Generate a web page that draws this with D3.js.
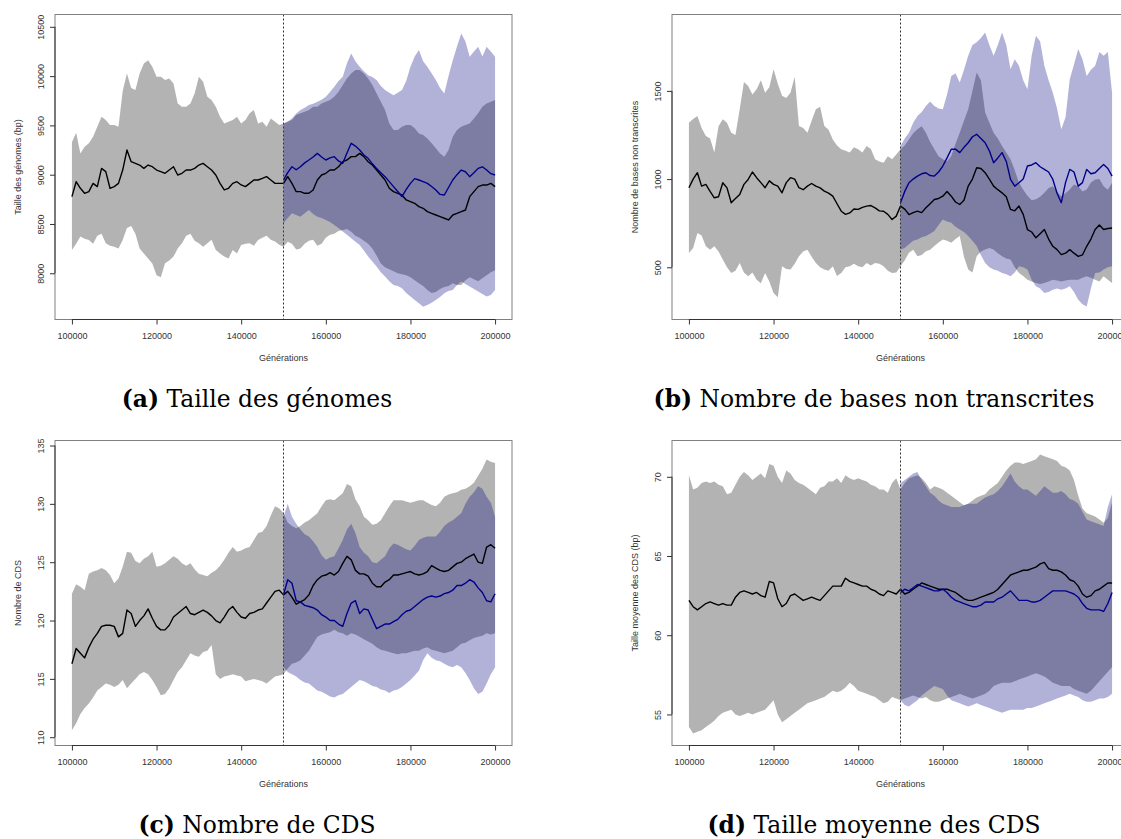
<!DOCTYPE html>
<html>
<head>
<meta charset="utf-8">
<script src="https://cdn.jsdelivr.net/npm/d3@7"></script>
<style>
  body { margin: 0; background: #fff; }
  svg { display: block; }
  .tick text { font-family: "Liberation Sans", Arial, sans-serif; font-size: 9px; fill: #333; }
  .tick line { stroke: #333; }
</style>
</head>
<body>
<svg id="fig" width="1121" height="839"></svg>
<script>
// generations (x values)
var gensAll = [
  100000,101000,102000,103000,104000,105000,106000,107000,108000,109000,
  110000,111000,112000,113000,114000,115000,116000,117000,118000,119000,
  120000,121000,122000,123000,124000,125000,126000,127000,128000,129000,
  130000,131000,132000,133000,134000,135000,136000,137000,138000,139000,
  140000,141000,142000,143000,144000,145000,146000,147000,148000,149000,
  150000,151000,152000,153000,154000,155000,156000,157000,158000,159000,
  160000,161000,162000,163000,164000,165000,166000,167000,168000,169000,
  170000,171000,172000,173000,174000,175000,176000,177000,178000,179000,
  180000,181000,182000,183000,184000,185000,186000,187000,188000,189000,
  190000,191000,192000,193000,194000,195000,196000,197000,198000,199000,
  200000];
var gensLate = [
  150000,151000,152000,153000,154000,155000,156000,157000,158000,159000,
  160000,161000,162000,163000,164000,165000,166000,167000,168000,169000,
  170000,171000,172000,173000,174000,175000,176000,177000,178000,179000,
  180000,181000,182000,183000,184000,185000,186000,187000,188000,189000,
  190000,191000,192000,193000,194000,195000,196000,197000,198000,199000,
  200000];
var xTicks = [100000,120000,140000,160000,180000,200000];

// (a) Taille des génomes
var aTicks = [8000,8500,9000,9500,10000,10500];
var aLim = [7531,10625];
var aGreyHigh = [
  9330,9426,9216,9284,9318,9385,9487,9588,9554,9503,
  9503,9487,9850,10027,9880,9858,10027,10128,10162,10095,
  9993,9993,9960,9976,9926,9723,9689,9689,9723,9824,
  9993,9943,9790,9757,9689,9588,9520,9537,9554,9588,
  9520,9554,9622,9655,9520,9537,9487,9571,9537,9503,
  9520,9537,9554,9605,9622,9639,9655,9689,9689,9723,
  9740,9757,9790,9841,9909,9976,10027,10061,10061,10027,
  9976,9909,9824,9740,9655,9520,9453,9453,9487,9503,
  9503,9470,9419,9402,9368,9318,9267,9216,9183,9250,
  9385,9453,9487,9503,9520,9571,9622,9689,9723,9740,
  9757];
var aGreyLow = [
  8237,8300,8372,8350,8338,8300,8380,8400,8304,8280,
  8270,8250,8338,8460,8480,8400,8250,8200,8150,8100,
  7980,7960,8102,8130,8169,8250,8304,8380,8400,8330,
  8304,8270,8304,8340,8237,8200,8169,8150,8237,8200,
  8287,8300,8304,8280,8338,8360,8380,8340,8321,8290,
  8270,8320,8300,8240,8250,8300,8330,8340,8280,8300,
  8360,8390,8400,8430,8440,8450,8420,8380,8360,8330,
  8300,8250,8180,8100,8060,8040,8020,8000,7990,7980,
  7960,7930,7900,7870,7830,7800,7810,7840,7860,7870,
  7900,7880,7880,7930,7960,7940,7920,7950,7980,8010,
  8030];
var aGreyMean = [
  8777,8929,8862,8811,8828,8912,8879,9064,9031,8862,
  8879,8912,9047,9250,9132,9115,9098,9064,9098,9081,
  9047,9031,9014,9047,9081,8997,9014,9047,9047,9064,
  9098,9115,9081,9047,8997,8912,8845,8862,8912,8929,
  8896,8879,8912,8946,8946,8963,8980,8946,8912,8912,
  8912,8980,8912,8828,8828,8811,8811,8845,8946,8997,
  9014,9047,9047,9081,9132,9149,9183,9183,9216,9183,
  9132,9098,9047,8997,8946,8862,8828,8811,8794,8744,
  8727,8710,8676,8659,8625,8608,8591,8575,8558,8541,
  8591,8608,8625,8642,8777,8828,8879,8895,8895,8912,
  8879];
var aBlueHigh = [
  9520,9540,9571,9620,9655,9680,9706,9720,9740,9760,
  9790,9840,9892,9950,9993,10130,10230,10150,10095,10050,
  10010,9990,9960,9900,9858,9830,9807,9830,9858,9950,
  10095,10200,10264,10150,10095,10030,9960,9880,9824,10000,
  10162,10300,10432,10350,10196,10250,10297,10200,10297,10250,
  10196];
var aBlueLow = [
  8507,8560,8608,8590,8574,8610,8642,8600,8574,8560,
  8541,8520,8490,8460,8423,8390,8355,8320,8287,8230,
  8169,8120,8068,8010,7966,7920,7882,7870,7848,7800,
  7764,7730,7696,7660,7679,7700,7730,7760,7797,7820,
  7831,7880,7916,7890,7865,7840,7814,7790,7764,7780,
  7831];
var aBlueMean = [
  8946,9020,9081,9050,9081,9120,9149,9180,9216,9180,
  9149,9170,9183,9140,9115,9220,9318,9290,9250,9200,
  9166,9110,9064,9020,8980,8930,8879,8830,8777,8850,
  8912,8960,8946,8930,8912,8880,8845,8800,8794,8870,
  8946,9000,9047,9030,8980,9020,9064,9080,9047,9010,
  8997];

// (b) Nombre de bases non transcrites
var bTicks = [500,1000,1500];
var bLim = [204,1933];
var bGreyHigh = [
  1320,1340,1358,1290,1244,1230,1150,1300,1339,1320,
  1263,1250,1396,1550,1528,1480,1509,1560,1490,1520,
  1623,1540,1472,1460,1490,1580,1301,1290,1263,1330,
  1396,1410,1301,1280,1225,1190,1169,1160,1150,1180,
  1169,1150,1188,1170,1112,1100,1093,1130,1112,1140,
  1169,1190,1225,1260,1282,1300,1263,1210,1169,1130,
  1112,1100,1131,1200,1263,1330,1396,1500,1604,1560,
  1377,1320,1263,1230,1188,1150,1112,1050,979,940,
  905,880,885,900,922,950,960,930,903,920,
  941,970,960,930,941,980,998,1000,960,940,
  979];
var bGreyLow = [
  581,610,695,680,619,600,619,590,544,500,
  468,480,525,470,449,470,430,410,468,420,
  354,330,506,490,487,520,562,590,600,560,
  525,500,487,480,506,450,468,500,506,520,
  506,500,525,510,525,520,506,480,468,470,
  506,540,582,600,563,570,591,600,620,640,
  658,650,639,660,677,560,487,470,563,590,
  601,610,601,580,563,550,544,500,468,450,
  430,420,411,405,411,420,430,425,420,425,
  430,430,430,440,449,440,430,420,449,430,
  411];
var bGreyMean = [
  951,1000,1036,960,970,930,894,900,979,950,
  866,890,913,970,998,1040,1008,980,951,990,
  970,960,922,980,1008,1000,951,940,960,975,
  960,950,932,920,903,860,818,800,808,830,
  828,840,847,850,837,820,818,800,771,790,
  847,830,799,810,818,810,837,860,884,890,
  903,930,903,870,856,880,960,1000,1064,1060,
  1036,1000,960,940,922,900,828,820,847,800,
  714,700,667,690,714,660,619,600,572,580,
  600,580,562,570,619,660,714,740,714,720,
  723];
var bBlueHigh = [
  1188,1230,1263,1320,1358,1380,1415,1440,1415,1400,
  1396,1480,1585,1600,1547,1620,1699,1760,1775,1800,
  1831,1760,1699,1760,1831,1760,1623,1680,1642,1560,
  1509,1700,1812,1780,1642,1560,1490,1400,1282,1350,
  1566,1650,1737,1680,1585,1620,1642,1720,1699,1720,
  1490];
var bBlueLow = [
  601,610,630,650,658,670,677,690,705,740,
  771,760,752,730,714,700,677,650,620,570,
  525,500,487,480,468,460,449,470,506,500,
  487,430,392,380,354,360,373,380,373,380,
  392,360,316,290,278,380,468,470,487,500,
  506];
var bBlueMean = [
  866,930,979,1000,1017,1030,1036,1020,1017,1040,
  1074,1120,1169,1170,1150,1180,1206,1240,1254,1230,
  1206,1160,1093,1120,1150,1100,998,960,979,1000,
  1074,1080,1093,1070,1055,1040,998,920,866,980,
  1055,1040,960,980,1055,1030,1036,1060,1083,1060,
  1017];

// (c) Nombre de CDS
var cTicks = [110,115,120,125,130,135];
var cLim = [109.29,135.43];
var cGreyHigh = [
  122.3,123.1,122.9,122.6,124.0,124.2,124.3,124.5,124.3,123.9,
  123.2,123.6,124.6,125.9,125.8,125.1,124.9,125.3,125.5,125.9,
  124.6,124.7,124.9,125.2,125.5,125.3,124.9,124.7,124.9,124.4,
  124.0,123.9,123.8,124.1,124.3,124.7,125.2,125.8,126.3,125.9,
  126.0,126.2,126.3,126.9,127.5,127.6,128.1,129.0,129.8,129.6,
  129.2,128.4,128.1,127.9,128.1,128.4,128.6,128.9,129.2,129.8,
  130.3,130.4,130.3,130.6,130.9,131.7,131.5,130.4,129.8,128.9,
  128.6,128.2,128.3,128.6,129.2,129.8,130.3,130.3,130.3,130.2,
  130.1,130.2,130.3,130.3,130.1,129.9,129.8,130.1,130.6,130.8,
  130.9,131.0,131.2,131.3,131.5,131.8,132.4,133.0,133.8,133.6,
  133.5];
var cGreyLow = [
  110.6,111.2,112.0,112.5,112.9,113.4,114.0,114.3,114.6,114.5,
  114.3,114.5,114.9,114.2,114.6,115.0,115.4,115.6,115.4,114.9,
  114.3,113.6,113.7,114.2,114.9,115.6,116.0,116.6,117.2,117.0,
  116.9,117.3,117.4,117.9,115.4,115.0,115.2,115.3,115.4,115.3,
  115.2,114.8,114.9,115.0,114.9,114.8,114.6,114.9,115.2,115.3,
  115.4,115.9,116.3,116.4,116.6,117.0,117.4,118.0,118.6,118.8,
  118.9,119.0,119.2,119.0,118.9,118.7,118.9,118.8,118.6,118.4,
  118.2,118.0,117.7,117.5,117.4,117.3,117.2,117.1,117.2,117.2,
  117.3,117.4,117.4,117.6,117.7,117.5,117.4,117.3,117.2,117.3,
  117.4,117.7,118.0,118.1,118.3,118.5,118.6,118.7,118.9,118.8,
  118.9];
var cGreyMean = [
  116.3,117.6,117.2,116.8,117.7,118.4,118.9,119.5,119.6,119.6,
  119.5,118.6,118.9,120.9,120.6,119.5,120.0,120.4,121.0,120.2,
  119.5,119.2,119.2,119.6,120.3,120.6,120.9,121.2,120.6,120.5,
  120.7,120.9,120.7,120.4,120.0,119.8,120.3,120.9,121.2,120.7,
  120.3,120.2,120.6,120.7,120.9,121.0,121.5,122.0,122.5,122.6,
  122.2,122.5,122.0,121.4,121.6,121.8,122.2,123.0,123.5,123.8,
  123.9,124.1,123.9,124.2,124.9,125.5,125.2,124.3,124.0,124.0,
  123.8,123.2,122.9,122.9,123.3,123.5,123.9,123.9,124.0,124.1,
  124.2,124.0,123.9,124.0,124.2,124.7,124.5,124.3,124.2,124.3,
  124.6,124.9,125.0,125.3,125.5,125.7,125.0,124.9,126.3,126.5,
  126.2];
var cBlueHigh = [
  128.9,130.0,128.9,128.3,127.8,127.4,127.2,126.8,126.3,125.6,
  125.2,125.4,125.5,126.2,126.9,127.8,128.3,127.5,126.3,125.8,
  125.5,125.0,124.9,125.2,125.5,126.2,126.6,126.5,126.3,126.1,
  126.0,126.4,126.9,127.1,127.2,127.2,127.2,127.6,128.1,128.4,
  128.6,128.9,129.2,130.0,130.6,131.0,131.5,131.3,130.6,130.1,
  128.9];
var cBlueLow = [
  116.0,115.6,115.4,115.2,114.9,114.7,114.6,114.3,114.0,113.9,
  113.7,113.5,113.4,113.6,113.7,114.0,114.3,114.6,114.9,114.8,
  114.6,114.4,114.3,114.1,114.0,113.8,114.0,114.1,114.3,114.6,
  114.9,115.3,115.7,116.6,117.2,116.8,116.6,116.5,116.3,116.1,
  116.0,116.2,116.0,115.5,114.9,114.2,113.7,113.9,114.6,115.4,
  116.0];
var cBlueMean = [
  122.2,123.5,123.2,121.7,121.6,121.3,121.2,121.1,120.9,120.5,
  120.3,120.0,120.0,119.7,119.5,120.6,121.5,121.7,120.6,121.0,
  120.9,120.1,119.3,119.5,119.7,119.7,119.9,120.1,120.5,120.8,
  120.9,121.2,121.5,121.8,122.0,122.1,122.0,122.1,122.3,122.4,
  122.6,123.0,123.0,123.2,123.5,123.3,122.8,122.4,121.7,121.6,
  122.3];

// (d) Taille moyenne des CDS
var dTicks = [55,60,65,70];
var dLim = [53.04,72.29];
var dGreyHigh = [
  70.1,69.2,69.3,69.6,69.7,69.6,69.7,69.5,69.4,68.9,
  69.0,69.5,70.0,70.3,70.1,69.8,70.0,70.2,69.9,70.8,
  70.7,70.0,69.6,70.4,70.2,69.8,69.6,69.5,69.3,69.1,
  68.9,69.3,69.4,69.7,69.7,69.9,69.6,70.1,69.9,69.8,
  69.9,69.8,69.7,69.5,69.4,69.2,69.2,69.0,69.6,69.9,
  69.2,69.6,69.9,70.0,70.1,69.9,69.6,69.2,69.4,69.3,
  69.2,69.0,68.8,68.6,68.4,68.2,68.3,68.5,68.7,68.8,
  68.9,69.2,69.4,69.6,70.0,70.4,70.7,70.9,70.9,70.8,
  70.9,71.0,71.1,71.4,71.3,71.2,71.1,71.0,70.7,70.6,
  70.4,69.8,68.8,68.0,67.7,67.6,67.5,67.3,67.1,67.4,
  68.4];
var dGreyLow = [
  54.2,53.8,53.9,54.0,54.2,54.4,54.6,54.9,55.1,55.2,
  55.3,55.0,54.9,55.0,55.1,55.0,55.1,55.2,55.3,55.6,
  55.9,55.0,54.5,54.7,54.9,55.1,55.3,55.5,55.7,55.8,
  55.9,56.0,56.1,56.3,56.5,56.4,56.5,56.7,57.0,56.8,
  56.5,56.4,56.3,56.2,56.1,55.9,55.7,55.8,56.1,56.0,
  55.9,56.0,56.1,56.2,56.1,56.0,56.1,55.9,55.8,55.8,
  55.9,56.0,56.1,56.2,56.3,56.2,56.1,56.0,56.1,56.2,
  56.3,56.5,56.8,56.9,57.0,57.0,57.0,57.1,57.2,57.3,
  57.4,57.5,57.6,57.5,57.4,57.2,57.0,56.9,56.8,56.8,
  56.8,56.6,56.5,56.4,56.3,56.5,56.8,57.1,57.4,57.7,
  58.0];
var dGreyMean = [
  62.2,61.8,61.6,61.8,62.0,62.1,62.0,61.9,62.0,61.9,
  61.9,62.4,62.7,62.8,62.7,62.6,62.7,62.5,62.4,63.4,
  63.3,62.3,61.8,62.0,62.5,62.6,62.4,62.2,62.3,62.4,
  62.3,62.2,62.5,62.8,63.1,63.1,63.1,63.6,63.4,63.3,
  63.2,63.1,63.1,62.9,62.8,62.6,62.5,62.8,62.7,62.6,
  62.9,62.6,62.7,62.9,63.1,63.3,63.2,63.1,63.0,62.9,
  62.9,62.9,62.8,62.7,62.5,62.3,62.2,62.2,62.3,62.4,
  62.5,62.6,62.7,62.9,63.2,63.5,63.8,63.9,64.0,64.1,
  64.1,64.2,64.3,64.5,64.6,64.2,64.1,64.1,64.0,63.8,
  63.5,63.4,63.1,62.6,62.4,62.5,62.8,62.9,63.1,63.3,
  63.3];
var dBlueHigh = [
  69.6,69.8,70.0,70.2,70.3,69.8,69.4,69.0,68.8,68.5,
  68.3,68.2,68.1,68.1,68.1,68.2,68.3,68.3,68.3,68.5,
  68.7,68.8,68.9,69.1,69.4,69.8,70.2,69.7,69.4,69.2,
  69.2,69.0,68.8,69.1,69.4,69.2,69.0,69.0,69.1,68.9,
  68.6,68.5,68.3,67.8,67.3,67.2,67.1,67.0,66.9,68.1,
  68.9];
var dBlueLow = [
  55.9,55.6,55.5,55.7,55.9,56.2,56.4,56.6,56.8,56.7,
  56.6,56.2,55.9,55.8,55.7,55.6,55.5,55.6,55.7,55.6,
  55.5,55.4,55.3,55.2,55.1,55.2,55.3,55.3,55.3,55.3,
  55.4,55.4,55.5,55.6,55.7,55.8,55.9,56.0,56.1,56.2,
  56.3,56.2,56.1,55.9,55.8,55.8,55.9,56.0,56.0,56.1,
  56.3];
var dBlueMean = [
  62.7,62.9,62.8,63.0,63.2,63.1,63.0,62.9,62.8,62.8,
  62.9,62.7,62.4,62.2,62.1,62.0,61.9,61.8,61.8,61.9,
  62.1,62.1,62.1,62.3,62.4,62.6,62.8,62.5,62.2,62.2,
  62.2,62.1,62.1,62.2,62.4,62.6,62.8,62.8,62.8,62.8,
  62.7,62.6,62.4,62.0,61.7,61.6,61.6,61.6,61.5,62.0,
  62.7];

var panels = [
  {tag: "a", caption: "Taille des génomes", ylab: "Taille des génomes (bp)", ticks: aTicks, lim: aLim,
   gH: aGreyHigh, gL: aGreyLow, gM: aGreyMean, bH: aBlueHigh, bL: aBlueLow, bM: aBlueMean},
  {tag: "b", caption: "Nombre de bases non transcrites", ylab: "Nombre de bases non transcrites", ticks: bTicks, lim: bLim,
   gH: bGreyHigh, gL: bGreyLow, gM: bGreyMean, bH: bBlueHigh, bL: bBlueLow, bM: bBlueMean},
  {tag: "c", caption: "Nombre de CDS", ylab: "Nombre de CDS", ticks: cTicks, lim: cLim,
   gH: cGreyHigh, gL: cGreyLow, gM: cGreyMean, bH: cBlueHigh, bL: cBlueLow, bM: cBlueMean},
  {tag: "d", caption: "Taille moyenne des CDS", ylab: "Taille moyenne des CDS (bp)", ticks: dTicks, lim: dLim,
   gH: dGreyHigh, gL: dGreyLow, gM: dGreyMean, bH: dBlueHigh, bL: dBlueLow, bM: dBlueMean}
];

// plot boxes (left, right, top, bottom) and caption centres
var layout = {
  a: {l: 55, r: 512, t: 14.5, b: 319.5, cx: 257, cy: 407},
  b: {l: 672, r: 1129, t: 14.5, b: 319.5, cx: 874, cy: 407},
  c: {l: 55, r: 512, t: 440.5, b: 745.5, cx: 257, cy: 833},
  d: {l: 672, r: 1129, t: 440.5, b: 745.5, cx: 874, cy: 833}
};

var svg = d3.select("#fig");
svg.append("rect").attr("width", 1121).attr("height", 839).attr("fill", "#fff");

function drawPanel(p) {
  var box = layout[p.tag];
  var g = svg.append("g");

  var x = d3.scaleLinear().domain([96000, 204000]).range([box.l, box.r]);
  var y = d3.scaleLinear().domain(p.lim).range([box.b, box.t]);

  var grey = gensAll.map((gen, i) => ({x: gen, lo: p.gL[i], hi: p.gH[i], m: p.gM[i]}));
  var blue = gensLate.map((gen, i) => ({x: gen, lo: p.bL[i], hi: p.bH[i], m: p.bM[i]}));

  var band = d3.area()
    .x(d => x(d.x))
    .y0(d => y(d.lo))
    .y1(d => y(d.hi));
  var line = d3.line()
    .x(d => x(d.x))
    .y(d => y(d.m));

  g.append("path").attr("d", band(grey)).attr("fill", "#b3b3b3");
  g.append("path").attr("d", band(blue)).attr("fill", "#000080").attr("fill-opacity", 0.3);

  g.append("path").attr("d", line(grey))
    .attr("fill", "none").attr("stroke", "#000").attr("stroke-width", 1.4)
    .attr("stroke-linejoin", "round");
  g.append("path").attr("d", line(blue))
    .attr("fill", "none").attr("stroke", "#00008b").attr("stroke-width", 1.4)
    .attr("stroke-linejoin", "round");

  // switch point
  g.append("line")
    .attr("x1", x(150000)).attr("x2", x(150000))
    .attr("y1", box.t).attr("y2", box.b)
    .attr("stroke", "#333").attr("stroke-width", 1).attr("stroke-dasharray", "2,2");

  // box
  g.append("rect")
    .attr("x", box.l).attr("y", box.t)
    .attr("width", box.r - box.l).attr("height", box.b - box.t)
    .attr("fill", "none").attr("stroke", "#808080").attr("stroke-width", 1);

  // x axis
  var xa = g.append("g").attr("transform", "translate(0," + box.b + ")")
    .call(d3.axisBottom(x).tickValues(xTicks).tickSize(5).tickPadding(8).tickFormat(d3.format("d")));
  xa.select(".domain").remove();
  xa.append("line")
    .attr("x1", x(xTicks[0])).attr("x2", x(xTicks[xTicks.length - 1]))
    .attr("stroke", "#333");

  // y axis
  var ya = g.append("g").attr("transform", "translate(" + box.l + ",0)")
    .call(d3.axisLeft(y).tickValues(p.ticks).tickSize(5).tickFormat(d3.format("d")));
  ya.select(".domain").remove();
  ya.append("line")
    .attr("y1", y(p.ticks[0])).attr("y2", y(p.ticks[p.ticks.length - 1]))
    .attr("stroke", "#333");
  ya.selectAll(".tick text")
    .attr("x", null).attr("dy", null)
    .attr("text-anchor", "middle")
    .attr("transform", "translate(-11,0) rotate(-90)");

  // axis titles
  g.append("text")
    .attr("x", (box.l + 457 / 2)).attr("y", box.b + 41)
    .attr("text-anchor", "middle")
    .style("font-family", "'Liberation Sans', Arial, sans-serif")
    .style("font-size", "9px").attr("fill", "#333")
    .text("Générations");
  g.append("text")
    .attr("transform", "translate(" + (box.l - 34.5) + "," + ((box.t + box.b) / 2) + ") rotate(-90)")
    .attr("text-anchor", "middle")
    .style("font-family", "'Liberation Sans', Arial, sans-serif")
    .style("font-size", "9px").attr("fill", "#333")
    .text(p.ylab);

  // caption
  var cap = svg.append("text")
    .attr("x", box.cx).attr("y", box.cy)
    .attr("text-anchor", "middle")
    .style("font-family", "'DejaVu Serif', serif")
    .style("font-size", "23.4px").attr("fill", "#000");
  cap.append("tspan").style("font-weight", "bold").text("(" + p.tag + ")");
  cap.append("tspan").text(" " + p.caption);
}

panels.forEach(drawPanel);
</script>
</body>
</html>
